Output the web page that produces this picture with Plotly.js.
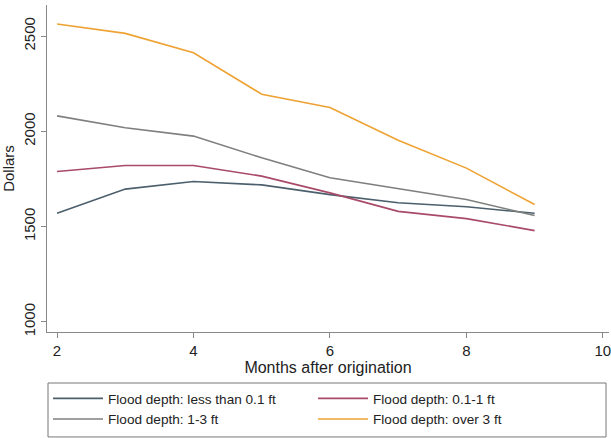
<!DOCTYPE html>
<html>
<head>
<meta charset="utf-8">
<script src="https://cdn.plot.ly/plotly-3.0.1.min.js"></script>
<style>html,body{margin:0;padding:0;background:#fff;}#chart{width:611px;height:438px;}</style>
</head>
<body>
<div id="chart"></div>
<script>
const months = [2, 3, 4, 5, 6, 7, 8, 9];
const seriesNames = ["Flood depth: less than 0.1 ft", "Flood depth: 0.1-1 ft", "Flood depth: 1-3 ft", "Flood depth: over 3 ft"];
const lessThan01 = [1570, 1697, 1737, 1719, 1668, 1625, 1604, 1570];
const from01to1 = [1789, 1821, 1821, 1765, 1677, 1580, 1542, 1479];
const from1to3 = [2081, 2019, 1975, 1861, 1756, 1700, 1642, 1558];
const over3 = [2563, 2514, 2412, 2195, 2125, 1953, 1807, 1616];
const xTicks = [2, 4, 6, 8, 10];
const yTicks = [1000, 1500, 2000, 2500];
const colors = ["#4b5f6c", "#a84a68", "#7d807c", "#eea232"];

const values = [lessThan01, from01to1, from1to3, over3];
const traces = values.map((v, i) => ({
  x: months, y: v, type: "scatter", mode: "lines", name: seriesNames[i],
  line: {color: colors[i], width: 1.6}
}));

const fam = "Liberation Sans, Arial, sans-serif";
const layout = {
  width: 611, height: 438,
  margin: {l: 47, r: 2, t: 5, b: 106},
  paper_bgcolor: "#fff", plot_bgcolor: "#fff",
  font: {family: fam, size: 15, color: "#222"},
  showlegend: true,
  xaxis: {
    range: [1.853, 10.09], tickvals: xTicks, ticktext: xTicks.map(String),
    tickfont: {family: fam, size: 15, color: "#222"}, ticklabeloverflow: "allow",
    showgrid: false, zeroline: false, showline: true, linecolor: "#888", linewidth: 1.2,
    ticks: "outside", ticklen: 5, tickcolor: "#888",
    title: {text: "Months after origination", font: {family: fam, size: 16, color: "#222"}, standoff: 2}
  },
  yaxis: {
    range: [947, 2663], tickvals: yTicks, ticktext: yTicks.map(String),
    tickangle: -90, tickfont: {family: fam, size: 15, color: "#222"},
    showgrid: false, zeroline: false, showline: true, linecolor: "#888", linewidth: 1.2,
    ticks: "outside", ticklen: 5, tickcolor: "#888",
    title: {text: "Dollars", font: {family: fam, size: 15, color: "#222"}, standoff: 4}
  },
  legend: {
    orientation: "h", x: 0.0018, xanchor: "left", y: -0.156, yanchor: "top",
    borderwidth: 0, bgcolor: "rgba(0,0,0,0)",
    entrywidth: 200, entrywidthmode: "pixels", itemwidth: 50,
    font: {family: fam, size: 13.6, color: "#222"}, traceorder: "normal"
  },
  shapes: [{
    type: "rect", xref: "paper", yref: "paper",
    x0: 0.00178, x1: 0.9947, y0: -0.321, y1: -0.156,
    line: {color: "#777", width: 1}, fillcolor: "rgba(0,0,0,0)", layer: "below"
  }]
};
Plotly.newPlot("chart", traces, layout, {displayModeBar: false, staticPlot: true});
</script>
</body>
</html>
